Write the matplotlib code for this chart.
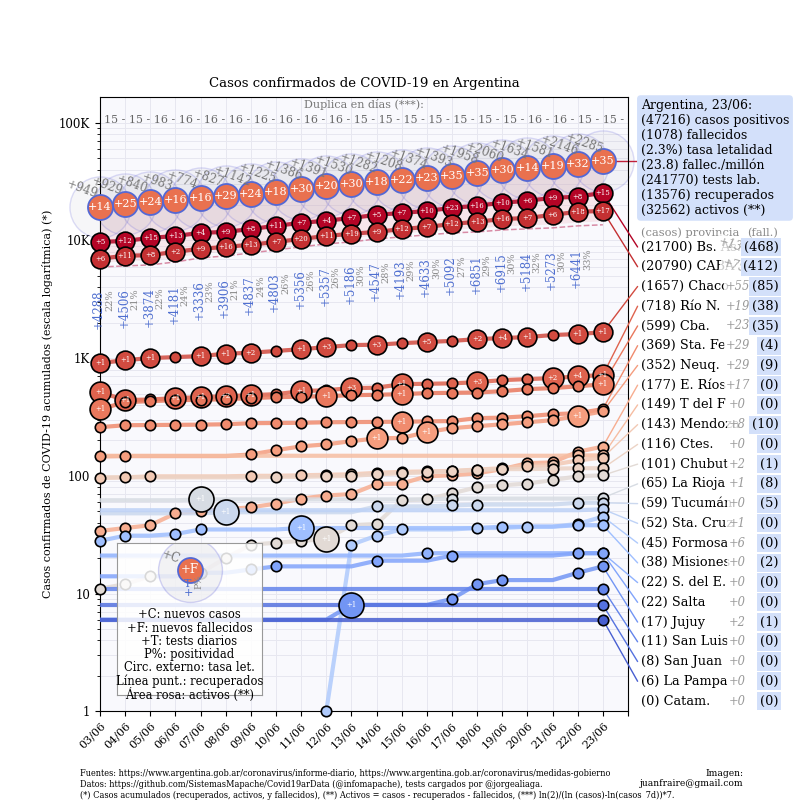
import numpy as np
import matplotlib
matplotlib.use('Agg')
import matplotlib.pyplot as plt
from matplotlib.ticker import FixedLocator, FixedFormatter, LogLocator, NullFormatter

plt.rcParams['font.family'] = ['DejaVu Serif']

# ==================== datos ====================
fechas = ['03/06', '04/06', '05/06', '06/06', '07/06', '08/06', '09/06', '10/06', '11/06',
          '12/06', '13/06', '14/06', '15/06', '16/06', '17/06', '18/06', '19/06', '20/06',
          '21/06', '22/06', '23/06']

# Argentina (totales)
casos_arg = [19268, 20197, 21037, 22020, 22794, 23621, 24763, 25988, 27374, 28765, 30295,
             31577, 32785, 34159, 35552, 37510, 39570, 41204, 42785, 44931, 47216]
nuevos_arg = [949, 929, 840, 983, 774, 827, 1142, 1225, 1386, 1391, 1530, 1282, 1208, 1374,
              1393, 1958, 2060, 1634, 1581, 2146, 2285]
fall_dia_arg = [14, 25, 24, 16, 16, 29, 24, 18, 30, 20, 30, 18, 22, 23, 35, 35, 30, 14, 19, 32, 35]
fall_arg = [583, 608, 632, 648, 664, 693, 717, 735, 765, 785, 815, 833, 855, 878, 913, 948,
            978, 992, 1011, 1043, 1078]
recuperados = [5950, 6070, 6190, 6560, 7100, 7380, 7830, 8300, 8810, 9340, 9710, 10300,
               10710, 11140, 11580, 11810, 12280, 12530, 12780, 13290, 13576]
tests = [4288, 4506, 3874, 4181, 3336, 3906, 4837, 4803, 5356, 5357, 5186, 4547, 4193, 4633,
         5092, 6851, 6915, 5184, 5273, 6441]
positividad = [22, 21, 22, 24, 23, 21, 24, 26, 26, 26, 30, 28, 29, 30, 27, 29, 30, 32, 30, 33]
duplica = [15, 15, 16, 16, 16, 16, 16, 16, 16, 16, 15, 15, 15, 15, 15, 15, 15, 16, 16, 15, 15]

# provincias (casos acumulados)
bs_as = [9700, 9900, 10500, 10900, 11600, 11800, 12500, 13300, 14100, 14700, 15500, 16500,
         17100, 17800, 18900, 19700, 20900, 21700, 23000, 23500, 25400]
caba = [7000, 7400, 7500, 8000, 8500, 8800, 9200, 9700, 10300, 10900, 11400, 11800, 12500,
        13000, 13800, 14400, 15200, 15500, 16500, 17500, 17800]
chaco = [907, 961, 1000, 1020, 1040, 1090, 1110, 1150, 1190, 1240, 1290, 1300, 1340, 1370,
         1400, 1450, 1480, 1510, 1570, 1602, 1657]
rio_n = [514, 440, 445, 457, 466, 475, 484, 494, 524, 534, 556, 560, 601, 605, 610, 625, 650,
         663, 676, 699, 718]
cba = [368, 422, 431, 439, 442, 448, 457, 466, 470, 475, 484, 488, 494, 504, 507, 510, 524,
       545, 556, 576, 599]
sta_fe = [259, 269, 270, 271, 272, 274, 280, 281, 282, 285, 286, 287, 288, 290, 292, 309, 312,
          321, 334, 340, 369]
neuq = [146, 147, 147, 147, 147, 147, 152, 165, 178, 185, 197, 208, 210, 235, 254, 264, 274,
        285, 297, 323, 352]
e_rios = [34, 36, 38, 48, 50, 52, 54, 58, 64, 68, 70, 85, 86, 99, 101, 105, 114, 128, 130, 160, 177]
t_del_f = [148, 148, 148, 148, 148, 148, 148, 148, 148, 148, 148, 148, 148, 148, 148, 148, 148,
           148, 148, 149, 149]
mendoza = [96, 97, 99, 99, 99, 99, 100, 100, 101, 102, 103, 106, 108, 109, 110, 113, 116, 121,
           124, 135, 143]
ctes = [97, 97, 97, 97, 97, 97, 97, 98, 98, 99, 100, 103, 105, 107, 109, 112, 114, 114, 115, 116, 116]
chubut = [11, 12, 14, 14, 15, 20, 26, 27, 28, 29, 38, 39, 62, 63, 71, 80, 83, 86, 92, 99, 101]
la_rioja = [62, 62, 62, 62, 63, 63, 63, 63, 63, 63, 63, 63, 63, 63, 64, 64, 64, 64, 64, 64, 65]
tucuman = [48, 48, 48, 48, 48, 49, 49, 49, 49, 49, 49, 55, 55, 55, 56, 57, 57, 57, 57, 59, 59]
sta_cruz = [51, 51, 51, 51, 51, 51, 51, 51, 51, 51, 51, 51, 51, 51, 51, 51, 51, 51, 51, 51, 52]
formosa = [0, 0, 0, 0, 0, 0, 0, 0, 0, 1, 26, 31, 35, 35, 35, 36, 36, 37, 37, 39, 45]
misiones = [28, 31, 31, 32, 35, 35, 35, 35, 36, 36, 36, 36, 36, 36, 36, 36, 37, 37, 37, 38, 38]
s_del_e = [21, 21, 21, 21, 21, 21, 21, 21, 21, 21, 21, 21, 21, 22, 22, 22, 22, 22, 22, 22, 22]
salta = [14, 14, 14, 14, 15, 15, 16, 17, 17, 17, 17, 19, 19, 19, 21, 21, 21, 21, 21, 22, 22]
jujuy = [6, 6, 6, 6, 6, 6, 6, 6, 6, 6, 8, 8, 8, 8, 9, 12, 13, 13, 13, 15, 17]
san_luis = [11] * 21
san_juan = [8] * 21
la_pampa = [6] * 21
catam = [0] * 21

nombres = ['Bs. As.', 'CABA', 'Chaco', 'Río N.', 'Cba.', 'Sta. Fe', 'Neuq.', 'E. Ríos',
           'T del F', 'Mendoza', 'Ctes.', 'Chubut', 'La Rioja', 'Tucumán', 'Sta. Cruz',
           'Formosa', 'Misiones', 'S. del E.', 'Salta', 'Jujuy', 'San Luis', 'San Juan',
           'La Pampa', 'Catam.']
series_prov = [bs_as, caba, chaco, rio_n, cba, sta_fe, neuq, e_rios, t_del_f, mendoza, ctes,
               chubut, la_rioja, tucuman, sta_cruz, formosa, misiones, s_del_e, salta, jujuy,
               san_luis, san_juan, la_pampa, catam]
casos_label = [21700, 20790, 1657, 718, 599, 369, 352, 177, 149, 143, 116, 101, 65, 59, 52, 45,
               38, 22, 22, 17, 11, 8, 6, 0]
nuevos_label = [1334, 759, 55, 19, 23, 29, 29, 17, 0, 8, 0, 2, 1, 0, 1, 6, 0, 0, 0, 2, 0, 0, 0, 0]
fall_label = [468, 412, 85, 38, 35, 4, 9, 0, 0, 10, 0, 1, 8, 5, 0, 0, 2, 0, 0, 1, 0, 0, 0, 0]

# fallecidos diarios por provincia (indice de dia -> nuevos)
fall_dia_bsas = [5, 12, 15, 13, 4, 9, 8, 11, 7, 4, 7, 5, 7, 10, 23, 16, 10, 6, 9, 8, 15]
fall_dia_caba = [6, 11, 8, 2, 9, 16, 13, 7, 20, 11, 19, 9, 12, 7, 12, 13, 16, 7, 6, 18, 17]
fall_dia_chaco = [1, 1, 1, 0, 1, 1, 2, 0, 1, 3, 0, 3, 0, 5, 0, 2, 4, 1, 0, 1, 1]
fall_dia_otras = {
    'Río N.': {0: 1, 1: 1, 3: 1, 4: 1, 5: 2, 6: 1, 8: 1, 10: 3, 12: 1, 15: 3, 18: 2, 19: 4, 20: 1},
    'Cba.': {0: 1, 9: 1, 12: 1, 20: 1},
    'Neuq.': {11: 1, 13: 1, 19: 1},
    'Sta. Fe': {12: 1},
    'Chubut': {9: 1},
    'La Rioja': {4: 1},
    'Tucumán': {5: 1},
    'Misiones': {8: 1},
    'Jujuy': {10: 1},
}

# ==================== figura ====================
fig = plt.figure(figsize=(8, 8), dpi=100)
ax = fig.add_axes([0.125, 0.111, 0.66, 0.768])
ax.set_facecolor('#f9f9fd')
x = np.arange(len(fechas))

ax.set_yscale('log')
ax.set_ylim(1, 1.66e5)
ax.set_xlim(0, 21)
ax.yaxis.set_major_locator(FixedLocator([1, 10, 100, 1000, 10000, 100000]))
ax.yaxis.set_major_formatter(FixedFormatter(['1', '10', '100', '1K', '10K', '100K']))
ax.yaxis.set_minor_locator(LogLocator(base=10, subs=np.arange(2, 10)))
ax.yaxis.set_minor_formatter(NullFormatter())
ax.set_xticks(list(x) + [21])
ax.set_xticklabels(fechas + [''], rotation=45, ha='right', rotation_mode='anchor', fontsize=8)
ax.tick_params(axis='y', labelsize=8.5)
ax.grid(True, which='both', color='#e7e7f0', lw=0.7)
ax.set_axisbelow(True)

cmap = plt.get_cmap('coolwarm')
n_prov = len(nombres)

# area rosa: activos
rec_fall = np.array(recuperados) + np.array(fall_arg)
ax.fill_between(x, rec_fall, casos_arg, color='#f2c4cc', alpha=0.35, lw=0, zorder=1)
# linea punteada: recuperados
ax.plot(x, recuperados, ls='--', color='#d07090', lw=1.1, alpha=0.8, zorder=2)

# circulo externo (tasa letalidad)
ax.scatter(x, casos_arg, s=44 ** 2, facecolor=(0.55, 0.55, 0.62, 0.07),
           edgecolor=(0.35, 0.35, 0.85, 0.2), lw=1, zorder=2, clip_on=False)

# provincias
for i, (nom, serie) in enumerate(zip(nombres, series_prov)):
    c = cmap(1 - i / (n_prov - 1))
    v = np.array(serie, dtype=float)
    v[v <= 0] = np.nan
    ax.plot(x, v, color=c, lw=3, alpha=0.85, zorder=3, solid_capstyle='round')
    if i == 0:
        fd = fall_dia_bsas
    elif i == 1:
        fd = fall_dia_caba
    elif i == 2:
        fd = fall_dia_chaco
    else:
        dd = fall_dia_otras.get(nom, {})
        fd = [dd.get(k, 0) for k in range(len(x))]
    for k in range(len(x)):
        if np.isnan(v[k]):
            continue
        cambia = (k == len(x) - 1) or fd[k] > 0
        if k == 0:
            cambia = cambia or serie[1] != serie[0]
        else:
            cambia = cambia or serie[k] != serie[k - 1]
        if not cambia:
            continue
        if fd[k] > 0:
            ms = 13.5 if serie[-1] > 1000 else (15 if serie[-1] > 300 else 18)
        else:
            ms = 7.5
        ax.scatter([k], [v[k]], s=ms ** 2, color=c, edgecolor='black', lw=1.2, zorder=4,
                   clip_on=False)
        if fd[k] > 0:
            ax.text(k, v[k], f'+{fd[k]}', color='white', fontsize=5, ha='center',
                    va='center', zorder=5)

ax.scatter(x, casos_arg, s=18 ** 2, color='#e9714f', edgecolor='#5468d4', lw=1.3, zorder=6,
           clip_on=False)
for k in range(len(x)):
    ax.text(k, casos_arg[k], f'+{fall_dia_arg[k]}', color='white', fontsize=8, ha='center',
            va='center', zorder=7, clip_on=False)
    ax.annotate(f'+{nuevos_arg[k]}', (k, casos_arg[k]), xytext=(-13, 13),
                textcoords='offset points', rotation=-20, ha='center', va='center',
                color='#777777', fontsize=8.5, zorder=7, annotation_clip=False)

# tests y positividad
for k in range(len(tests)):
    yt = recuperados[k] / 1.55
    ax.text(k - 0.05, yt, f'+{tests[k]}', rotation=90, ha='center', va='top',
            color='#4f6fd0', fontsize=8.5, zorder=3)
    ax.text(k + 0.38, yt, f'{positividad[k]}%', rotation=90, ha='center', va='top',
            color='#888888', fontsize=7, zorder=3)

# duplica en dias
ax.text(0.5, 0.987, 'Duplica en días (***):', transform=ax.transAxes, ha='center',
        va='center', color='#777777', fontsize=8)
ax.text(0.5, 0.9625, ' - '.join(str(d) for d in duplica) + ' -', transform=ax.transAxes,
        ha='center', va='center', color='#666666', fontsize=7.9)

# conector Argentina
ax.plot([20, 21.4], [casos_arg[-1], casos_arg[-1]], color='#c0203a', lw=1, clip_on=False)

ax.set_title('Casos confirmados de COVID-19 en Argentina', fontsize=9.5, pad=7)
ax.set_ylabel('Casos confirmados de COVID-19 acumulados (escala logarítmica) (*)', fontsize=8)

# ==================== etiquetas a la derecha ====================
info = ('Argentina, 23/06:\n(47216) casos positivos\n(1078) fallecidos\n(2.3%) tasa letalidad\n'
        '(23.8) fallec./millón\n(241770) tests lab.\n(13576) recuperados\n(32562) activos (**)')
fig.text(0.801, 1 - 99 / 800, info, va='top', ha='left', fontsize=9.0, linespacing=1.2,
         bbox=dict(boxstyle='round,pad=0.3', facecolor='#d3e0fa', edgecolor='none'))

fig.text(0.801, 1 - 233 / 800, '(casos) provincia', color='#888888', fontsize=8.2, va='center')
fig.text(0.973, 1 - 233 / 800, '(fall.)', color='#888888', fontsize=8.2, va='center', ha='right')

for i, nom in enumerate(nombres):
    c = cmap(1 - i / (n_prov - 1))
    yf = 1 - (247 + i * 19.74) / 800
    fig.text(0.801, yf, f'({casos_label[i]}) {nom}', fontsize=9.3, va='center', ha='left')
    rot = -15 if i < 2 else 0
    fig.text(0.922, yf, f'+{nuevos_label[i]}', fontsize=8.3, style='italic', color='#999999',
             va='center', ha='center', rotation=rot,
             bbox=dict(boxstyle='square,pad=0.15', facecolor='white', edgecolor='none', alpha=0.8))
    fig.text(0.973, yf, f'({fall_label[i]})', fontsize=9.3, va='center', ha='right',
             bbox=dict(boxstyle='square,pad=0.2', facecolor='#d3e0fa', edgecolor='none'))
    if series_prov[i][-1] > 0:
        ax.annotate('', xy=(20, series_prov[i][-1]), xycoords='data', xytext=(0.797, yf),
                    textcoords='figure fraction', annotation_clip=False,
                    arrowprops=dict(arrowstyle='-', color=c, lw=1, shrinkA=0, shrinkB=0))

# ==================== leyenda ====================
lax = fig.add_axes([117 / 800, 1 - 695 / 800, 145 / 800, 152 / 800])
lax.set_xlim(0, 1)
lax.set_ylim(0, 1)
lax.set_xticks([])
lax.set_yticks([])
lax.patch.set_facecolor((1, 1, 1, 0.85))
for s in lax.spines.values():
    s.set_color('#999999')
lax.scatter([0.5], [0.825], s=46 ** 2, facecolor=(0.55, 0.55, 0.62, 0.1),
            edgecolor=(0.35, 0.35, 0.85, 0.25), lw=1)
lax.scatter([0.5], [0.825], s=18 ** 2, color='#e9714f', edgecolor='#5468d4', lw=1.3)
lax.text(0.5, 0.825, '+F', color='white', fontsize=8.5, ha='center', va='center')
lax.text(0.37, 0.91, '+C', color='#777777', fontsize=8.5, ha='center', va='center', rotation=-20)
lax.text(0.49, 0.7, 'T\n+', color='#4f6fd0', fontsize=8, ha='center', va='center', linespacing=0.9)
lax.text(0.565, 0.745, 'P%', color='#888888', fontsize=6.5, ha='center', va='center', rotation=90)
lax.text(0.5, 0.57, '+C: nuevos casos\n+F: nuevos fallecidos\n+T: tests diarios\nP%: positividad\n'
         'Circ. externo: tasa let.\nLínea punt.: recuperados\nÁrea rosa: activos (**)',
         ha='center', va='top', fontsize=8.3, linespacing=1.02)

# ==================== pie ====================
fig.text(0.1, 1 - 773 / 800, 'Fuentes: https://www.argentina.gob.ar/coronavirus/informe-diario, '
         'https://www.argentina.gob.ar/coronavirus/medidas-gobierno', fontsize=6.6, va='center',
         fontstretch='condensed')
fig.text(0.1, 1 - 784 / 800, 'Datos: https://github.com/SistemasMapache/Covid19arData (@infomapache), '
         'tests cargados por @jorgealiaga.', fontsize=6.6, va='center', fontstretch='condensed')
fig.text(0.1, 1 - 795 / 800, '(*) Casos acumulados (recuperados, activos, y fallecidos), (**) Activos = '
         'casos - recuperados - fallecidos, (***) ln(2)/(ln (casos)-ln(casos_7d))*7.', fontsize=6.6,
         va='center', fontstretch='condensed')
fig.text(0.929, 1 - 773 / 800, 'Imagen:', fontsize=6.6, va='center', ha='right')
fig.text(0.929, 1 - 784 / 800, 'juanfraire@gmail.com', fontsize=6.6, va='center', ha='right')

fig.savefig('out.png', dpi=100, facecolor='white')
